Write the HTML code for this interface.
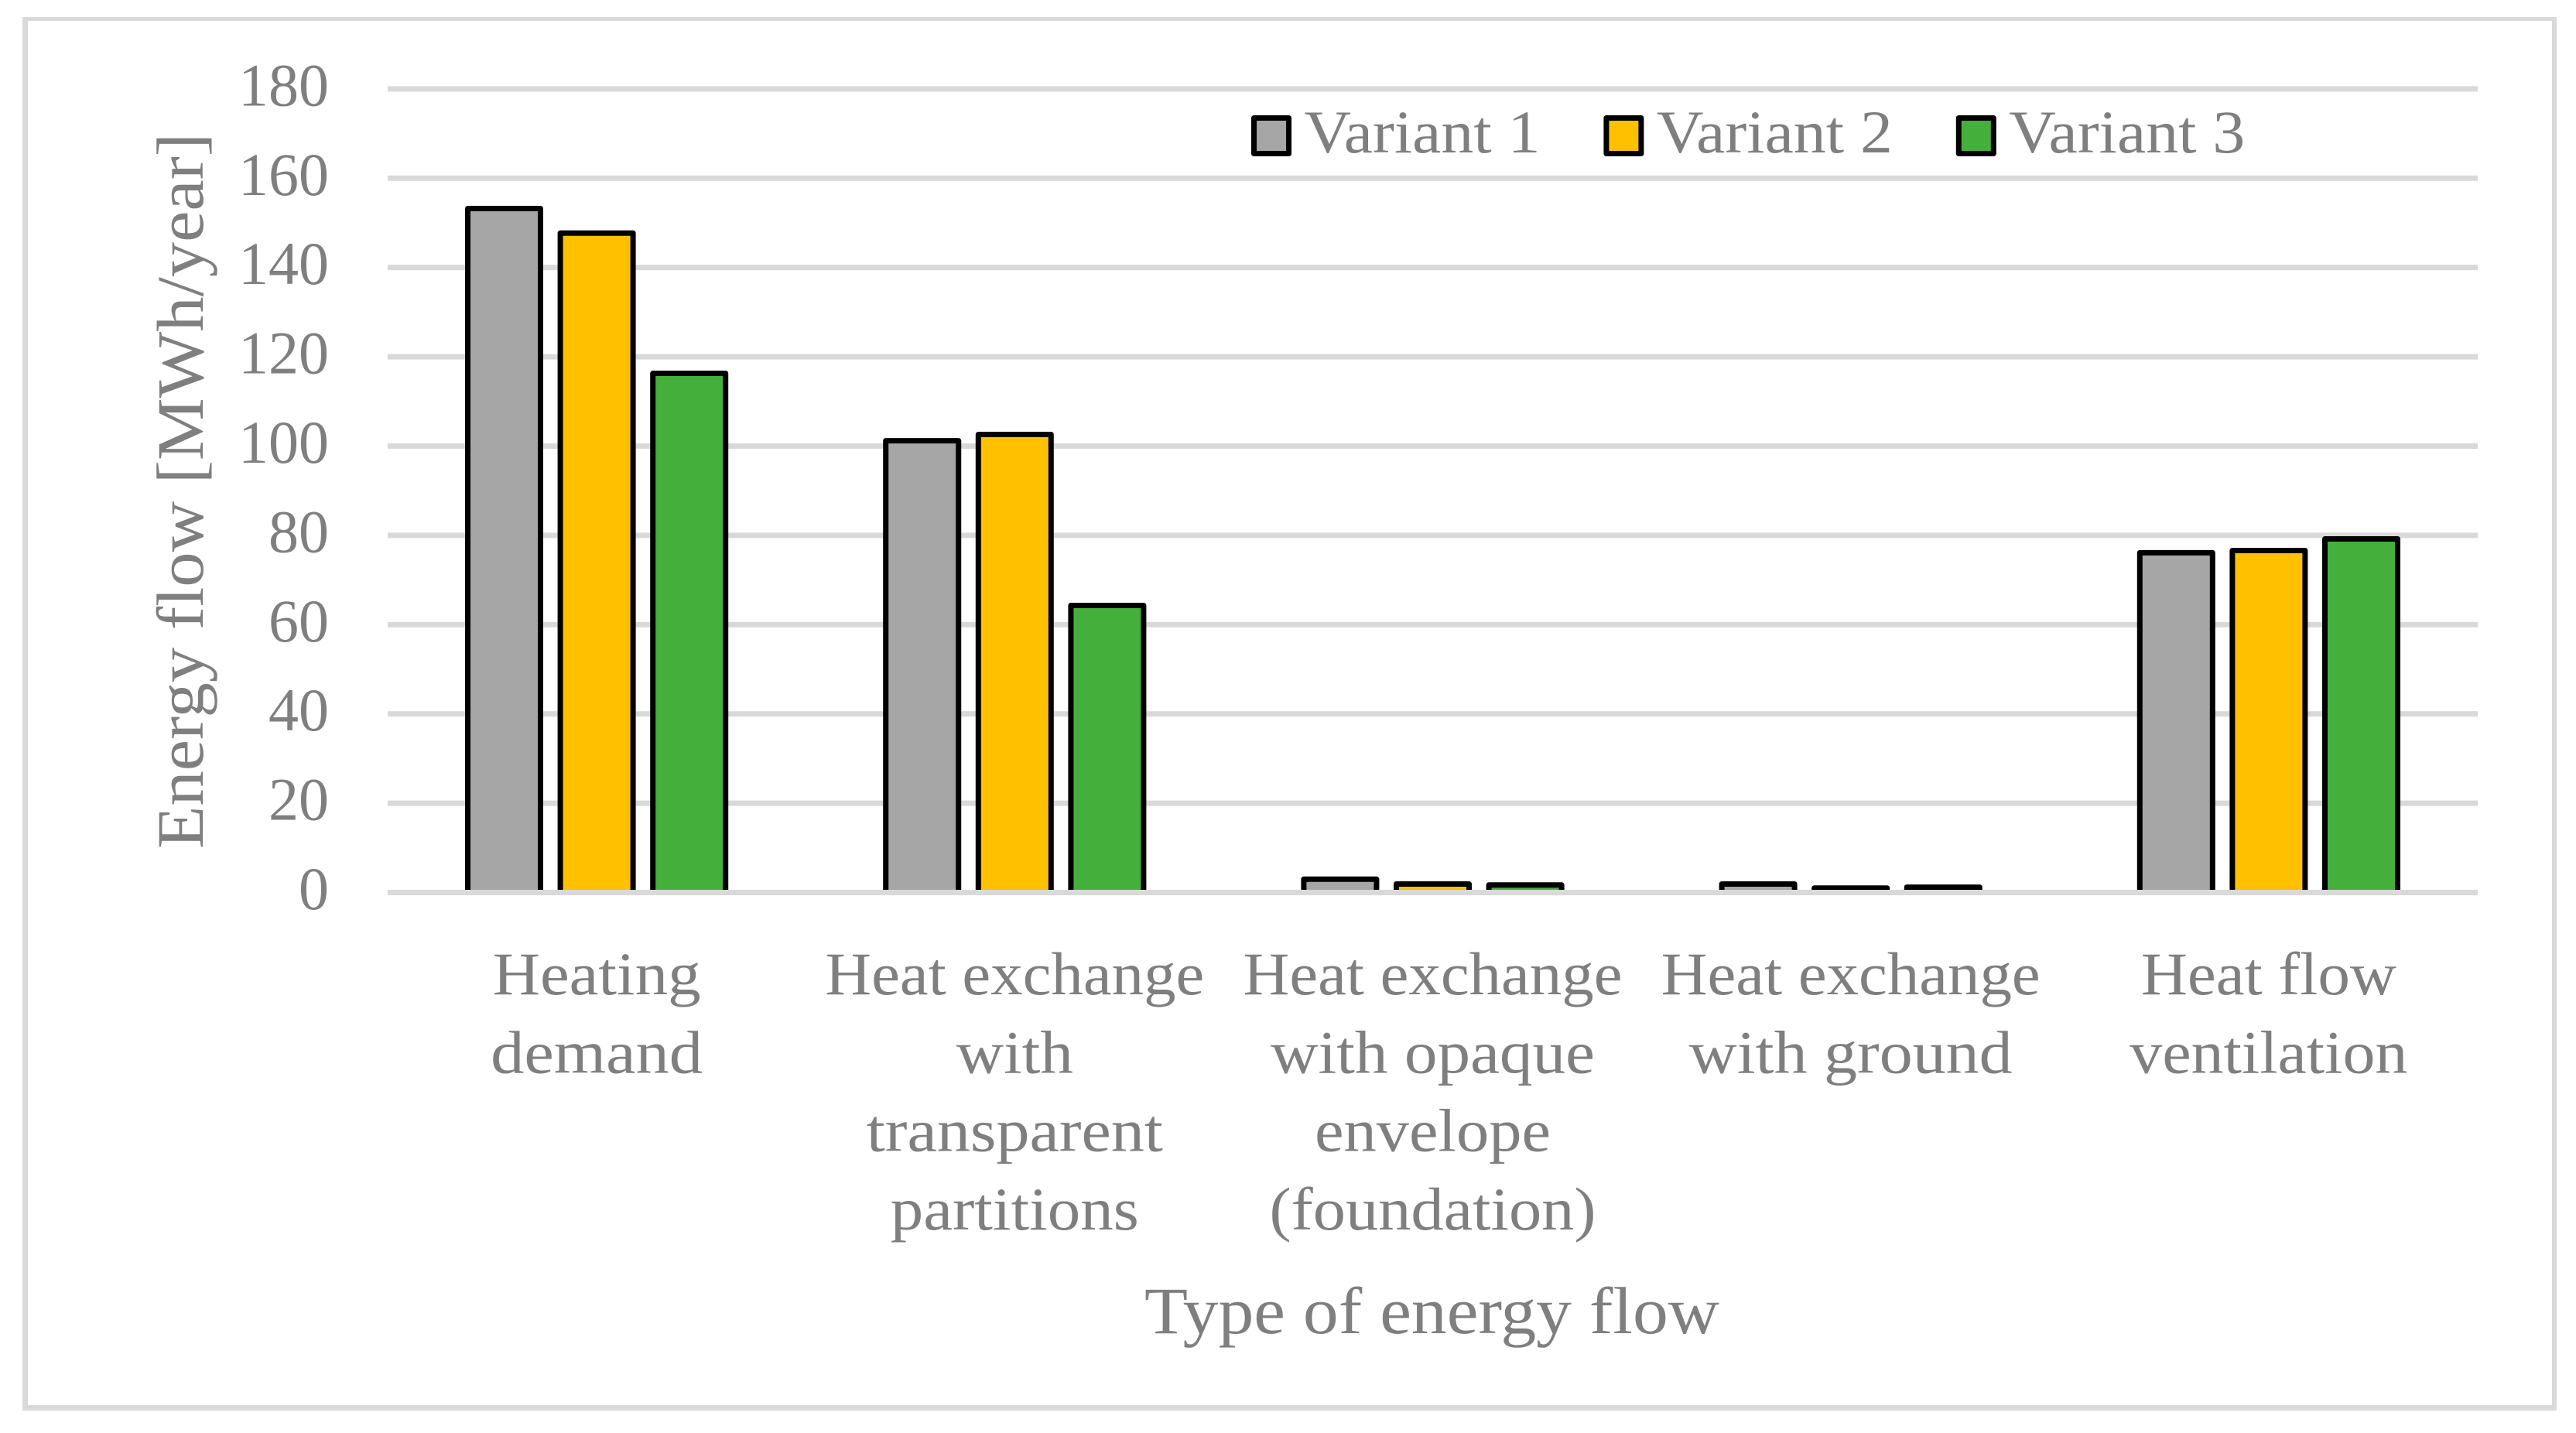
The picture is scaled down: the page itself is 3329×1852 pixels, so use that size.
<!DOCTYPE html>
<html lang="en">
<head>
<meta charset="utf-8">
<title>Energy flow by type and variant</title>
<style>
  html, body { margin: 0; padding: 0; background: #fff; }
  body { width: 3329px; height: 1852px; overflow: hidden; }
  svg { display: block; }
  text { font-family: "Liberation Serif", serif; fill: #7f7f7f; }
</style>
</head>
<body>
<svg id="chart" xmlns="http://www.w3.org/2000/svg" width="3329" height="1852" viewBox="0 0 3329 1852">
  <rect x="0" y="0" width="3329" height="1852" fill="#fff"/>
  <g fill="#d9d9d9">
    <rect x="29" y="22" width="3275" height="5"/>
    <rect x="29" y="22" width="7" height="1801"/>
    <rect x="3298" y="22" width="6" height="1801"/>
    <rect x="29" y="1816" width="3275" height="7"/>
  </g>
  <g id="grid"></g>
  <g id="ticks"></g>
  <g id="bars"></g>
  <g id="baseline"></g>
  <g id="cats"></g>
  <g id="legend"></g>
  <text transform="translate(262 1097) rotate(-90)" font-size="86" textLength="925" lengthAdjust="spacingAndGlyphs">Energy flow [MWh/year]</text>
  <text x="1479" y="1723" font-size="86" textLength="743" lengthAdjust="spacingAndGlyphs">Type of energy flow</text>
</svg>
<script>
const categories = [
  ["Heating", "demand"],
  ["Heat exchange", "with", "transparent", "partitions"],
  ["Heat exchange", "with opaque", "envelope", "(foundation)"],
  ["Heat exchange", "with ground"],
  ["Heat flow", "ventilation"]
];
const seriesNames = ["Variant 1", "Variant 2", "Variant 3"];
const variant1 = [153.2, 101.2, 3.0, 1.9, 76.1];
const variant2 = [147.7, 102.6, 1.9, 1.0, 76.6];
const variant3 = [116.3, 64.3, 1.7, 1.2, 79.2];
const yTicks = [0, 20, 40, 60, 80, 100, 120, 140, 160, 180];

const seriesValues = [variant1, variant2, variant3];
const seriesColors = ["#a6a6a6", "#ffc000", "#44af3b"];
const NS = "http://www.w3.org/2000/svg";
const plotLeft = 501, plotRight = 3202;
const y0 = 1153.5, pxPerUnit = 5.77;
const barWidth = 94, barPitch = 119.6;
const lineGap = 101.3, firstBaseline = 1285;
const y = v => y0 - v * pxPerUnit;
const catCenter = i => plotLeft + (plotRight - plotLeft) * (i + 0.5) / categories.length;

/* Ink widths of the typeset labels, used only to fit the substitute font. */
const labelInkWidth = {
  "Heating": 269, "demand": 274, "Heat exchange": 490, "with": 151, "transparent": 383,
  "partitions": 321, "with opaque": 419, "envelope": 305, "(foundation)": 422,
  "with ground": 418, "Heat flow": 330, "ventilation": 359
};

function make(tag, attrs, parent) {
  const el = document.createElementNS(NS, tag);
  for (const k in attrs) el.setAttribute(k, attrs[k]);
  parent.appendChild(el);
  return el;
}

const gridG = document.getElementById("grid");
const ticksG = document.getElementById("ticks");
yTicks.forEach(t => {
  if (t !== 0) {
    const line = make("rect", { x: plotLeft, y: y(t) - 3.5, width: plotRight - plotLeft, height: 7, fill: "#d9d9d9" }, gridG);
    
    
  }
  const label = make("text", { x: 425, y: y(t) + 21.5, "font-size": 78, "text-anchor": "end" }, ticksG);
  label.textContent = String(t);
  
  
});

const barsG = document.getElementById("bars");
seriesValues.forEach((values, s) => {
  values.forEach((v, c) => {
    const cx = catCenter(c) + (s - 1) * barPitch;
    const bar = make("rect", {
      x: cx - barWidth / 2, y: y(v), width: barWidth, height: y0 - y(v),
      fill: seriesColors[s], stroke: "#000", "stroke-width": 7, "stroke-linejoin": "round"
    }, barsG);
    
    
  });
});

const baseG = document.getElementById("baseline");
const base = make("rect", { x: plotLeft, y: y0 - 3.5, width: plotRight - plotLeft, height: 7, fill: "#d9d9d9" }, baseG);



const catsG = document.getElementById("cats");
categories.forEach((lines, c) => {
  lines.forEach((txt, l) => {
    const t = make("text", {
      x: catCenter(c), y: firstBaseline + l * lineGap, "font-size": 78, "text-anchor": "middle",
      textLength: labelInkWidth[txt], lengthAdjust: "spacingAndGlyphs"
    }, catsG);
    t.textContent = txt;
    
    
  });
});

const legendG = document.getElementById("legend");
seriesNames.forEach((name, s) => {
  const sx = 1620.5 + s * 455.4;
  const swatch = make("rect", {
    x: sx, y: 152.5, width: 45, height: 46, fill: seriesColors[s],
    stroke: "#000", "stroke-width": 7, "stroke-linejoin": "round"
  }, legendG);
  
  
  const label = make("text", {
    x: sx + 65, y: 197, "font-size": 78, textLength: 305, lengthAdjust: "spacingAndGlyphs"
  }, legendG);
  label.textContent = name;
  
  
});
</script>
</body>
</html>
